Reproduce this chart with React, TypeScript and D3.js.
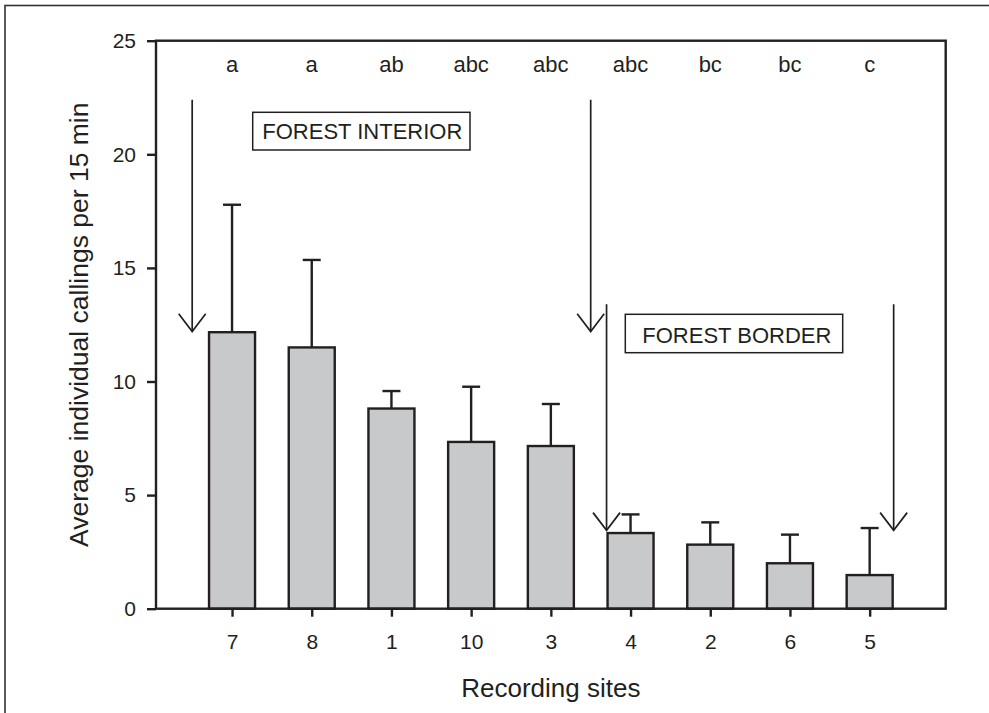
import * as d3 from "d3";
import React, { useEffect, useRef } from "react";

// recording sites, ordered as on the x axis
const sites = ["7", "8", "1", "10", "3", "4", "2", "6", "5"];
const means = [12.17, 11.5, 8.81, 7.34, 7.16, 3.33, 2.82, 2.0, 1.48];
const upper = [17.78, 15.35, 9.58, 9.77, 9.01, 4.15, 3.8, 3.26, 3.55];
const groups = ["a", "a", "ab", "abc", "abc", "abc", "bc", "bc", "c"];
const yTicks = [0, 5, 10, 15, 20, 25];

// arrows: [top value, tip value]
const interiorArrow = [22.4, 12.2];
const borderArrow = [13.4, 3.45];

const FONT = "'Liberation Sans', Arial, Helvetica, sans-serif";
const INK = "#231f20";

export default function App() {
  const axisLeftRef = useRef<SVGGElement>(null);
  const axisBottomRef = useRef<SVGGElement>(null);

  const W = 989;
  const H = 713;
  const left = 156;
  const right = 945.7;
  const top = 40.7;
  const bottom = 608.7;

  const y = d3.scaleLinear().domain([0, 25]).range([bottom, top]);
  const x = d3.scalePoint().domain(sites).range([left, right]).padding(0.954);
  const step = x.step();
  const barW = 46;
  const capW = 18;

  useEffect(() => {
    if (axisLeftRef.current) {
      const g = d3
        .select(axisLeftRef.current)
        .call(d3.axisLeft(y).tickValues(yTicks).tickSize(9).tickPadding(11));
      g.select(".domain").remove();
      g.selectAll("line").attr("stroke", INK).attr("stroke-width", 2.4);
      g.selectAll("text")
        .attr("fill", INK)
        .style("font-family", FONT)
        .style("font-size", "21px");
    }
    if (axisBottomRef.current) {
      const g = d3
        .select(axisBottomRef.current)
        .call(d3.axisBottom(x).tickSize(8).tickPadding(17));
      g.select(".domain").remove();
      g.selectAll("line").attr("stroke", INK).attr("stroke-width", 2.4);
      g.selectAll("text")
        .attr("fill", INK)
        .style("font-family", FONT)
        .style("font-size", "21px");
    }
  }, []);

  const arrowHead = (ax: number, ay: number) =>
    `M${ax - 13.5},${ay - 17.7}L${ax},${ay}L${ax + 13.5},${ay - 17.7}`;

  const arrowList = [
    { ax: (x("7") || 0) - step / 2, v: interiorArrow },
    { ax: ((x("3") || 0) + (x("4") || 0)) / 2, v: interiorArrow },
    { ax: (x("4") || 0) - barW / 2 - 1, v: borderArrow },
    { ax: (x("5") || 0) + barW / 2 + 1, v: borderArrow },
  ];

  return (
    <div style={{ position: "absolute", left: 0, top: 0 }}>
      <svg width={W} height={H} style={{ display: "block", background: "#fff" }}>
        <rect x={5} y={5.5} width={1100} height={1100} fill="none" stroke="#333" strokeWidth={1.6} />

        {/* bars + error bars */}
        {sites.map((s, i) => {
          const cx = x(s) || 0;
          return (
            <g key={`bar-${s}`}>
              <line x1={cx} x2={cx} y1={y(means[i])} y2={y(upper[i])} stroke={INK} strokeWidth={2.4} />
              <line x1={cx - capW / 2} x2={cx + capW / 2} y1={y(upper[i])} y2={y(upper[i])} stroke={INK} strokeWidth={2.4} />
              <rect
                x={cx - barW / 2}
                y={y(means[i])}
                width={barW}
                height={y(0) - y(means[i])}
                fill="#c8c9cb"
                stroke={INK}
                strokeWidth={2.4}
              />
              <text
                x={cx}
                y={72.3}
                textAnchor="middle"
                fill={INK}
                style={{ fontFamily: FONT, fontSize: 22 }}
              >
                {groups[i]}
              </text>
            </g>
          );
        })}

        {/* plot frame */}
        <rect x={left} y={top} width={right - left} height={bottom - top} fill="none" stroke={INK} strokeWidth={2.4} />
        <g ref={axisLeftRef} transform={`translate(${left},0)`} />
        <g ref={axisBottomRef} transform={`translate(0,${bottom})`} />

        {/* arrows */}
        {arrowList.map((a, i) => (
          <g key={`arrow-${i}`} fill="none" stroke={INK} strokeWidth={1.7}>
            <line x1={a.ax} x2={a.ax} y1={y(a.v[0])} y2={y(a.v[1])} />
            <path d={arrowHead(a.ax, y(a.v[1]))} />
          </g>
        ))}

        {/* annotation boxes */}
        <rect x={252.7} y={112.3} width={217.3} height={37.7} fill="#fff" stroke={INK} strokeWidth={1.5} />
        <text x={262.3} y={139.3} fill={INK} style={{ fontFamily: FONT, fontSize: 22 }}>
          FOREST INTERIOR
        </text>
        <rect x={625.3} y={314.3} width={217.4} height={38.4} fill="#fff" stroke={INK} strokeWidth={1.5} />
        <text x={642.3} y={342.7} fill={INK} style={{ fontFamily: FONT, fontSize: 22 }}>
          FOREST BORDER
        </text>

        {/* axis titles */}
        <text
          transform={`translate(87.7,${(top + bottom) / 2}) rotate(-90)`}
          textAnchor="middle"
          fill={INK}
          style={{ fontFamily: FONT, fontSize: 26.5 }}
        >
          Average individual callings per 15 min
        </text>
        <text
          x={(left + right) / 2}
          y={696.7}
          textAnchor="middle"
          fill={INK}
          style={{ fontFamily: FONT, fontSize: 26 }}
        >
          Recording sites
        </text>
      </svg>
    </div>
  );
}
